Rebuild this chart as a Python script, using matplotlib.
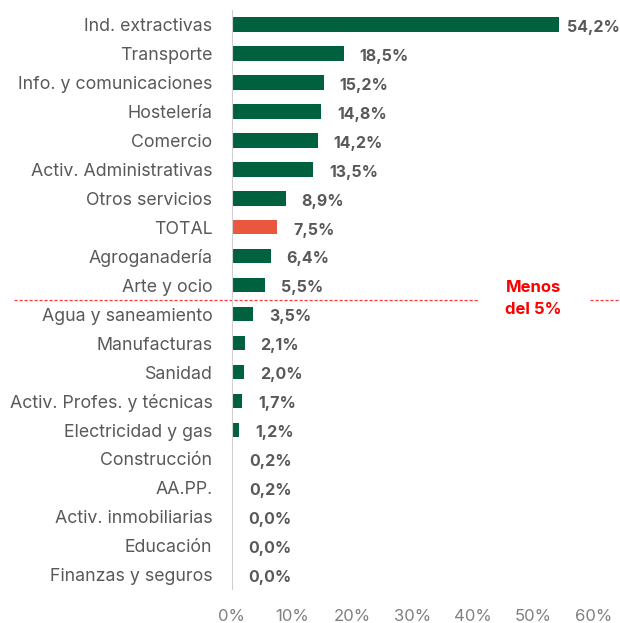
import matplotlib.pyplot as plt
import matplotlib.transforms as mtransforms

plt.rcParams['font.family'] = ['Inter', 'DejaVu Sans']

categorias = ['Ind. extractivas', 'Transporte', 'Info. y comunicaciones', 'Hostelería',
              'Comercio', 'Activ. Administrativas', 'Otros servicios', 'TOTAL',
              'Agroganadería', 'Arte y ocio', 'Agua y saneamiento', 'Manufacturas',
              'Sanidad', 'Activ. Profes. y técnicas', 'Electricidad y gas',
              'Construcción', 'AA.PP.', 'Activ. inmobiliarias', 'Educación',
              'Finanzas y seguros']
valores = [54.2, 18.5, 15.2, 14.8, 14.2, 13.5, 8.9, 7.5, 6.4, 5.5, 3.5, 2.1, 2.0,
           1.7, 1.2, 0.2, 0.2, 0.0, 0.0, 0.0]
etiquetas = ['54,2%', '18,5%', '15,2%', '14,8%', '14,2%', '13,5%', '8,9%', '7,5%',
             '6,4%', '5,5%', '3,5%', '2,1%', '2,0%', '1,7%', '1,2%', '0,2%', '0,2%',
             '0,0%', '0,0%', '0,0%']
xticks = [0, 10, 20, 30, 40, 50, 60]

verde = '#00613F'
rojo = '#E9573F'
gris = '#595959'

fig = plt.figure(figsize=(6.2, 6.23), dpi=100)
ax = fig.add_axes([0.374, 0.054, 0.584, 0.93])

y = list(range(len(categorias)))
colores = [rojo if c == 'TOTAL' else verde for c in categorias]
ax.barh(y, valores, height=0.5, color=colores)

for yi, v, t in zip(y, valores, etiquetas):
    # la etiqueta de la barra larga se acerca para caber en la figura
    dx = 5.5 if v > 50 else 11.5
    ax.annotate(t, (v, yi), xytext=(dx, -2), textcoords='offset points',
                va='center', ha='left', fontsize=11.5, fontweight='bold', color=gris)

ax.set_ylim(len(categorias) - 0.5, -0.5)
ax.set_xlim(0, 60)
ax.set_yticks(y)
ax.set_yticklabels(categorias, fontsize=12.8, color=gris)
ax.set_xticks(xticks)
ax.set_xticklabels([f'{t}%' for t in xticks], fontsize=12, color='#808080')
ax.tick_params(axis='y', length=0, pad=14)
ax.tick_params(axis='x', length=0, pad=14)
for s in ['top', 'right', 'bottom']:
    ax.spines[s].set_visible(False)
ax.spines['left'].set_color('#d0d0d0')

# línea del 5%
trans = mtransforms.blended_transform_factory(fig.transFigure, ax.transData)
ax.plot([0.023, 0.771], [9.5, 9.5], transform=trans, ls=(0, (2.5, 1.5)),
        color='#FF3B3B', lw=0.9, clip_on=False)
ax.plot([0.952, 1.0], [9.5, 9.5], transform=trans, ls=(0, (2.5, 1.5)),
        color='#FF3B3B', lw=0.9, clip_on=False)
ax.text(0.86, 9.45, 'Menos\ndel 5%', transform=trans, ha='center', va='center',
        color='#FF0000', fontsize=12, fontweight='bold', linespacing=1.6)

fig.savefig('out.png', dpi=100)
